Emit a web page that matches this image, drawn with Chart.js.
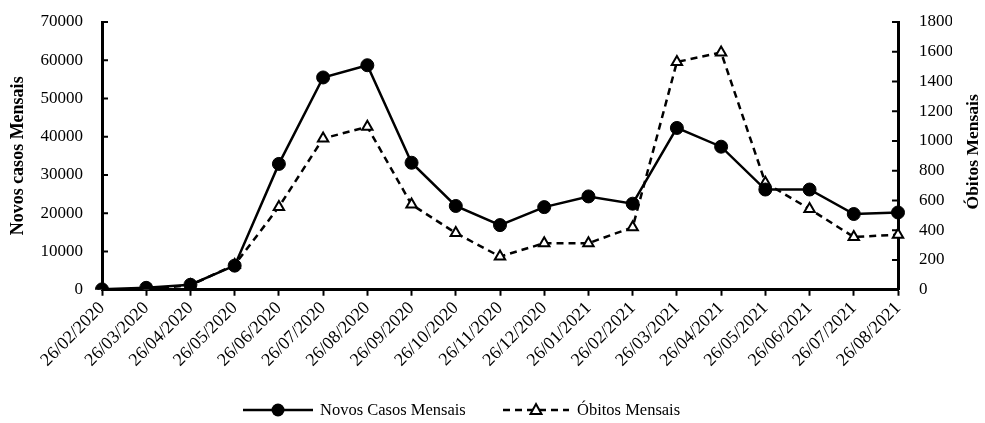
<!DOCTYPE html>
<html>
<head>
<meta charset="utf-8">
<script src="https://cdn.jsdelivr.net/npm/chart.js@4.4.1/dist/chart.umd.min.js"></script>
<style>
    html, body { margin: 0; padding: 0; background: #fff; }
    #wrap { width: 985px; height: 423px; }
</style>
</head>
<body>
<div id="wrap"><canvas id="chart" width="985" height="423"></canvas></div>
<script>
const months = [
    "26/02/2020", "26/03/2020", "26/04/2020", "26/05/2020", "26/06/2020",
    "26/07/2020", "26/08/2020", "26/09/2020", "26/10/2020", "26/11/2020",
    "26/12/2020", "26/01/2021", "26/02/2021", "26/03/2021", "26/04/2021",
    "26/05/2021", "26/06/2021", "26/07/2021", "26/08/2021"
];

const novosCasos = [
    100, 500, 1300, 6300, 32900, 55500, 58700, 33200, 21900, 16900,
    21600, 24400, 22500, 42300, 37400, 26200, 26200, 19800, 20200
];

const obitos = [
    2, 5, 30, 167, 557, 1017, 1095, 573, 381, 223,
    313, 313, 420, 1531, 1595, 719, 543, 355, 370
];

const casosTicks = [0, 10000, 20000, 30000, 40000, 50000, 60000, 70000];
const obitosTicks = [0, 200, 400, 600, 800, 1000, 1200, 1400, 1600, 1800];

const serif = "'Liberation Serif', 'Times New Roman', serif";

// one legend entry: line sample with its marker, then the label
function legendEntry(ctx, ds, x0, x1, y, textX) {
    ctx.strokeStyle = "#000";
    ctx.lineWidth = 2.5;
    ctx.setLineDash(ds.borderDash || []);
    ctx.beginPath();
    ctx.moveTo(x0, y);
    ctx.lineTo(x1, y);
    ctx.stroke();
    ctx.setLineDash([]);
    const cx = (x0 + x1) / 2;
    if (ds.pointStyle === "circle") {
        ctx.fillStyle = "#000";
        ctx.beginPath();
        ctx.arc(cx, y, 6.5, 0, Math.PI * 2);
        ctx.fill();
    } else {
        ctx.fillStyle = "#fff";
        ctx.lineWidth = 2;
        ctx.beginPath();
        ctx.moveTo(cx, y - 6);
        ctx.lineTo(cx + 5.5, y + 4);
        ctx.lineTo(cx - 5.5, y + 4);
        ctx.closePath();
        ctx.fill();
        ctx.stroke();
    }
    ctx.fillStyle = "#000";
    ctx.font = "16.5px " + serif;
    ctx.textAlign = "left";
    ctx.textBaseline = "middle";
    ctx.fillText(ds.label, textX, y + 1);
}

// ticks pointing into the plot, right axis title reading upwards, legend
const extras = {
    id: "extras",
    afterDraw(chart) {
        const ctx = chart.ctx;
        const area = chart.chartArea;
        const ds = chart.data.datasets;
        ctx.save();
        ctx.strokeStyle = "#000";
        ctx.lineWidth = 2;
        [["y", 1], ["y1", -1]].forEach(([id, dir]) => {
            const s = chart.scales[id];
            const x0 = dir > 0 ? s.right : s.left;
            s.ticks.forEach(t => {
                const y = s.getPixelForValue(t.value);
                ctx.beginPath();
                ctx.moveTo(x0, y);
                ctx.lineTo(x0 + dir * 6, y);
                ctx.stroke();
            });
        });

        legendEntry(ctx, ds[0], 243, 313, 410, 320);
        legendEntry(ctx, ds[1], 503, 569, 410, 577);

        ctx.translate(973, (area.top + area.bottom) / 2 - 4);
        ctx.rotate(-Math.PI / 2);
        ctx.fillStyle = "#000";
        ctx.font = "bold 17.5px " + serif;
        ctx.textAlign = "center";
        ctx.textBaseline = "middle";
        ctx.fillText("Óbitos Mensais", 0, 0);
        ctx.restore();
    }
};

new Chart(document.getElementById("chart"), {
    type: "line",
    data: {
        labels: months,
        datasets: [
            {
                label: "Novos Casos Mensais",
                data: novosCasos,
                yAxisID: "y",
                borderColor: "#000",
                borderWidth: 2.5,
                pointStyle: "circle",
                pointRadius: 6.5,
                pointBackgroundColor: "#000",
                pointBorderColor: "#000",
                pointBorderWidth: 1,
                tension: 0
            },
            {
                label: "Óbitos Mensais",
                data: obitos,
                yAxisID: "y1",
                borderColor: "#000",
                borderWidth: 2.5,
                borderDash: [7, 5],
                pointStyle: "triangle",
                pointRadius: 6,
                pointBackgroundColor: "#fff",
                pointBorderColor: "#000",
                pointBorderWidth: 2,
                tension: 0
            }
        ]
    },
    options: {
        responsive: false,
        animation: false,
        layout: { padding: { top: 22, left: 8, right: 33, bottom: 50 } },
        plugins: {
            tooltip: { enabled: false },
            legend: { display: false }
        },
        scales: {
            x: {
                offset: false,
                afterFit: (s) => { s.paddingLeft = 0; s.paddingRight = 0; },
                grid: {
                    drawOnChartArea: false,
                    offset: false,
                    tickLength: 6,
                    tickWidth: 2,
                    tickColor: "#000"
                },
                border: { color: "#000", width: 3 },
                ticks: {
                    color: "#000",
                    maxRotation: 45,
                    minRotation: 45,
                    autoSkip: false,
                    padding: 2,
                    font: { family: serif, size: 18 }
                }
            },
            y: {
                position: "left",
                min: 0,
                max: 70000,
                afterBuildTicks: (s) => { s.ticks = casosTicks.map(v => ({ value: v })); },
                afterFit: (s) => { s.paddingTop = 0; s.paddingBottom = 0; s.width = 94; },
                grid: { display: false },
                border: { color: "#000", width: 3 },
                ticks: {
                    color: "#000",
                    padding: 11,
                    font: { family: serif, size: 17 },
                    callback: (v) => String(v)
                },
                title: {
                    display: true,
                    text: "Novos casos Mensais",
                    color: "#000",
                    padding: { top: 0, bottom: 13 },
                    font: { family: serif, size: 18, weight: "bold" }
                }
            },
            y1: {
                position: "right",
                min: 0,
                max: 1800,
                afterBuildTicks: (s) => { s.ticks = obitosTicks.map(v => ({ value: v })); },
                afterFit: (s) => { s.paddingTop = 0; s.paddingBottom = 0; s.width = 54; },
                grid: { display: false },
                border: { color: "#000", width: 3 },
                ticks: {
                    color: "#000",
                    padding: 13,
                    font: { family: serif, size: 17 },
                    callback: (v) => String(v)
                }
            }
        }
    },
    plugins: [extras]
});
</script>
</body>
</html>
